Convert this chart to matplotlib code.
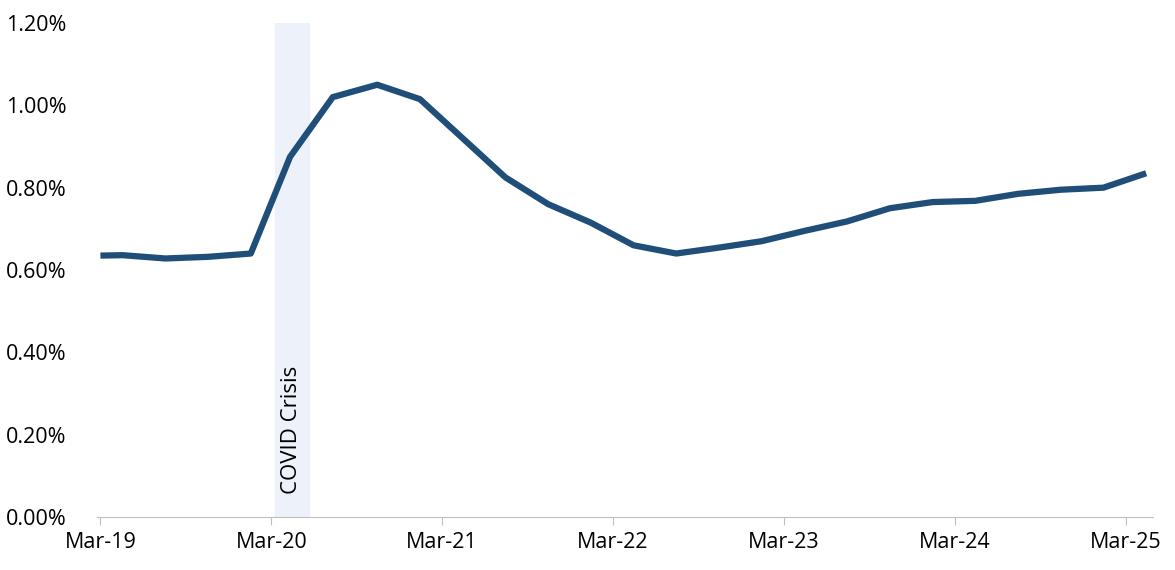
import matplotlib
matplotlib.use("Agg")
import matplotlib.pyplot as plt
from matplotlib.ticker import PercentFormatter

# x positions in years since Mar-19
x_years = [0.0, 0.13, 0.38, 0.63, 0.88, 1.11, 1.36, 1.62, 1.87, 2.12, 2.37, 2.62, 2.87, 3.12, 3.37,
           3.63, 3.87, 4.12, 4.37, 4.62, 4.87, 5.12, 5.37, 5.62, 5.87, 6.12]
values = [0.635, 0.636, 0.628, 0.632, 0.64, 0.875, 1.02, 1.05, 1.015, 0.92, 0.825, 0.76, 0.715, 0.66, 0.64,
          0.655, 0.67, 0.695, 0.718, 0.75, 0.765, 0.768, 0.785, 0.795, 0.80, 0.835]
tick_labels = ["Mar-19", "Mar-20", "Mar-21", "Mar-22", "Mar-23", "Mar-24", "Mar-25"]
covid_span = (1.02, 1.22)

plt.rcParams['font.family'] = ['Open Sans', 'DejaVu Sans']
fig = plt.figure(figsize=(11.75, 5.7), dpi=100)
ax = fig.add_axes([97/1175, 53/570, (1153-97)/1175, (517-23)/570])
ax.axvspan(*covid_span, color='#edf1f9', zorder=0)
ax.text((covid_span[0]+covid_span[1])/2, 0.055, "COVID Crisis", rotation=90, ha='center', va='bottom',
        fontsize=16, color='black')
ax.plot(x_years, values, color='#1f4e79', lw=4.5, solid_capstyle='butt')
ax.set_xlim(-0.02, 6.16)
ax.set_ylim(0, 1.2)
ax.yaxis.set_major_formatter(PercentFormatter(100, decimals=2))
ax.set_yticks([0, 0.2, 0.4, 0.6, 0.8, 1.0, 1.2])
ax.set_xticks(range(len(tick_labels)))
ax.set_xticklabels(tick_labels)
for s in ['top', 'right', 'left']:
    ax.spines[s].set_visible(False)
ax.spines['bottom'].set_color('#bfbfbf')
ax.tick_params(axis='y', length=0, labelsize=15.5, pad=22)
ax.tick_params(axis='x', length=6, color='#bfbfbf', labelsize=15.5, pad=5)
fig.savefig("out.png", dpi=100)
